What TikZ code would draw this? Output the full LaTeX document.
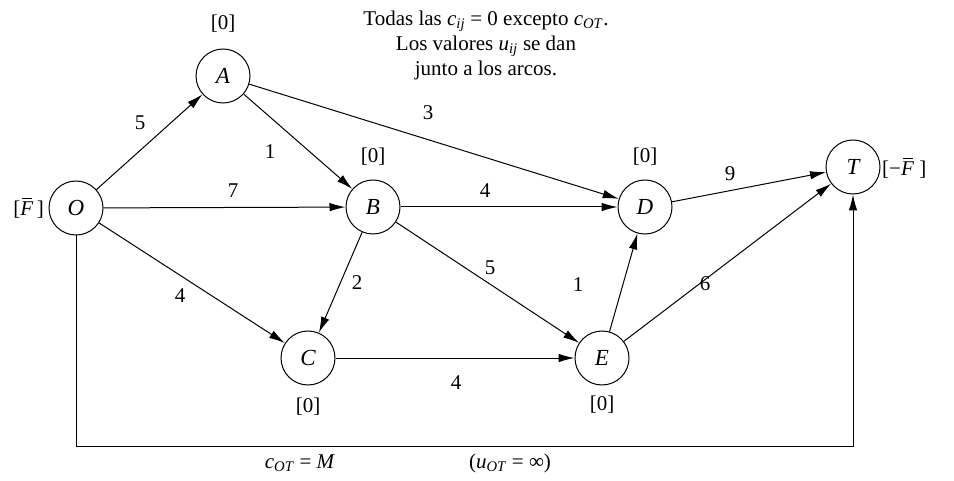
\documentclass[tikz,border=0pt]{standalone}
\usepackage{amsmath}
\usepackage{fontspec}
\setmainfont{Liberation Serif}
\usetikzlibrary{arrows.meta,calc}

\newcommand{\vr}[1]{\textit{#1}}
\newcommand{\sub}[1]{\textsubscript{\textit{#1}}}
\newcommand{\Fbar}{\textit{F}\llap{\rule[0.76em]{0.48em}{0.05em}\hspace{0.06em}}}

\begin{document}
\begin{tikzpicture}[x=1pt,y=-1pt,
    every node/.style={font=\fontsize{21}{25}\selectfont},
    nd/.style={draw, circle, line width=1pt, minimum size=54pt, inner sep=0pt,
        font=\fontsize{23}{27}\selectfont\itshape},
    arc/.style={line width=1pt, -{Latex[length=16pt,width=8.5pt]}}]
    \useasboundingbox (0,0) rectangle (954,481);

    % Nodos
    \node[nd] (O) at (76,208) {O};
    \node[nd] (A) at (223,76) {A};
    \node[nd] (B) at (373,207) {B};
    \node[nd] (C) at (308,358) {C};
    \node[nd] (D) at (645,207) {D};
    \node[nd] (E) at (602,358) {E};
    \node[nd] (T) at (853,167) {T};

    % Ofertas y demandas
    \node[anchor=east, inner sep=1pt] (sO) at (45,208) {[\Fbar\,]};
    \node[anchor=west, inner sep=1pt] (sT) at (881,168) {[−\Fbar\ ]};
    \node (sA) at (223,24) {[0]};
    \node (sB) at (373,157) {[0]};
    \node (sD) at (645,157) {[0]};
    \node (sC) at (308,407) {[0]};
    \node (sE) at (602,405) {[0]};

    % Arcos
    \draw[arc] (O) -- (A);
    \draw[arc] (O) -- (B);
    \draw[arc] (O) -- (C);
    \draw[arc] (A) -- (B);
    \draw[arc] (A) -- (D);
    \draw[arc] (B) -- (D);
    \draw[arc] (B) -- (C);
    \draw[arc] (B) -- (E);
    \draw[arc] (C) -- (E);
    \draw[arc] (E) -- (D);
    \draw[arc] (E) -- (T);
    \draw[arc] (D) -- (T);

    \coordinate (bl) at (77,446);
    \coordinate (br) at (853,446);
    \draw[arc] (O) -- (O |- bl) -- (T |- br) -- (T);

    % Capacidades
    \node (uOA) at (140,123) {5};
    \node (uAB) at (270,152) {1};
    \node (uAD) at (428,113) {3};
    \node (uOB) at (233,191) {7};
    \node (uBD) at (485,191) {4};
    \node (uDT) at (730,174) {9};
    \node (uOC) at (180,296) {4};
    \node (uBC) at (357,283) {2};
    \node (uBE) at (490,268) {5};
    \node (uED) at (578,285) {1};
    \node (uET) at (705,284) {6};
    \node (uCE) at (456,383) {4};

    \node (cOT) at (300,463) {\vr{c}\sub{OT} = \vr{M}};
    \node (uOT) at (510,463) {(\vr{u}\sub{OT} = ∞)};

    % Nota
    \node[align=center] (nota) at (486,45) {Todas las \vr{c}\sub{ij} = 0 excepto \vr{c}\sub{OT}.\\
        Los valores \vr{u}\sub{ij} se dan\\ junto a los arcos.};
\end{tikzpicture}
\end{document}
